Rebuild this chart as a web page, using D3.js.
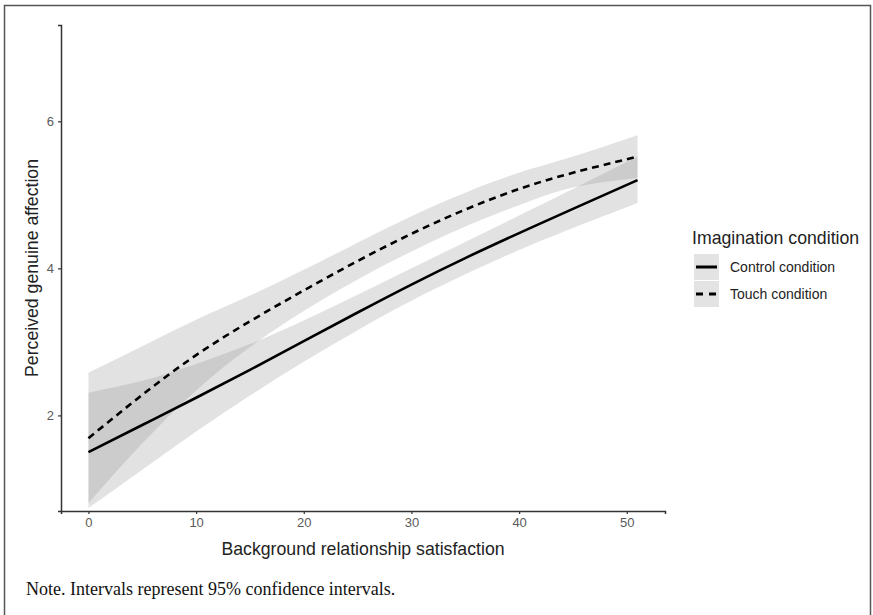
<!DOCTYPE html>
<html>
<head>
<meta charset="utf-8">
<script src="https://cdn.jsdelivr.net/npm/d3@7"></script>
<style>
  body { margin: 0; background: #fff; }
  svg { display: block; }
</style>
</head>
<body>
<div id="chart"></div>
<script>
/************************
 *  Data
 ************************/
const satisfaction = [0, 5, 10, 15, 20, 25, 30, 35, 40, 45, 51];

const controlFit   = [1.50, 1.87, 2.24, 2.62, 3.01, 3.40, 3.78, 4.14, 4.48, 4.81, 5.20];
const controlLower = [0.74, 1.26, 1.78, 2.27, 2.73, 3.16, 3.56, 3.92, 4.25, 4.55, 4.89];
const controlUpper = [2.31, 2.47, 2.70, 2.97, 3.29, 3.64, 4.00, 4.36, 4.72, 5.08, 5.52];

const touchFit   = [1.69, 2.28, 2.82, 3.28, 3.70, 4.10, 4.47, 4.80, 5.08, 5.30, 5.52];
const touchLower = [0.81, 1.62, 2.34, 2.93, 3.42, 3.85, 4.23, 4.57, 4.86, 5.10, 5.23];
const touchUpper = [2.58, 2.94, 3.30, 3.63, 3.98, 4.35, 4.71, 5.03, 5.30, 5.52, 5.81];

const xTicks = [0, 10, 20, 30, 40, 50];
const yTicks = [2, 4, 6];

const conditions = ["Control condition", "Touch condition"];

/************************
 *  Setup
 ************************/
const width = 873;
const height = 615;
const sans = "Liberation Sans, Arial, sans-serif";

const svg = d3.select("#chart")
  .append("svg")
  .attr("width", width)
  .attr("height", height);

// outer frame (left, top, right)
svg.append("path")
  .attr("d", "M4.5,615 L4.5,5.5 L870.5,5.5 L870.5,615")
  .style("fill", "none")
  .style("stroke", "#555")
  .style("stroke-width", 1.5);

const x = d3.scaleLinear().domain([-2.55, 53.55]).range([61, 665]);
const y = d3.scaleLinear().domain([0.70, 7.31]).range([511, 25]);

const series = [
  { name: conditions[0], fit: controlFit, lo: controlLower, hi: controlUpper, dash: null },
  { name: conditions[1], fit: touchFit, lo: touchLower, hi: touchUpper, dash: "7,5" }
];

/************************
 *  Ribbons & lines
 ************************/
const area = d3.area()
  .x((d, i) => x(satisfaction[i]))
  .y0(d => y(d[0]))
  .y1(d => y(d[1]))
  .curve(d3.curveNatural);

const line = d3.line()
  .x((d, i) => x(satisfaction[i]))
  .y(d => y(d))
  .curve(d3.curveNatural);

svg.selectAll(".ribbon")
  .data(series)
  .enter()
  .append("path")
  .attr("class", "ribbon")
  .attr("d", s => area(s.lo.map((v, i) => [v, s.hi[i]])))
  .style("fill", "#8c8c8c")
  .style("fill-opacity", 0.25);

svg.selectAll(".fit")
  .data(series)
  .enter()
  .append("path")
  .attr("class", "fit")
  .attr("d", s => line(s.fit))
  .style("fill", "none")
  .style("stroke", "#000")
  .style("stroke-width", 2.6)
  .style("stroke-dasharray", s => s.dash);

/************************
 *  Axes
 ************************/
const axisColor = "#333";

const xAxis = svg.append("g")
  .attr("transform", "translate(0,511)")
  .call(d3.axisBottom(x).tickValues(xTicks).tickSize(3).tickPadding(4).tickFormat(d3.format("d")));

const yAxis = svg.append("g")
  .attr("transform", "translate(61,0)")
  .call(d3.axisLeft(y).tickValues(yTicks).tickSize(3).tickPadding(4).tickFormat(d3.format("d")));

[xAxis, yAxis].forEach(g => {
  g.select(".domain").style("stroke", axisColor).style("stroke-width", 1.5);
  g.selectAll(".tick line").style("stroke", axisColor).style("stroke-width", 1.2);
  g.selectAll(".tick text")
    .style("fill", "#5a5a5a")
    .style("font-family", sans)
    .style("font-size", "13px");
});

svg.append("text")
  .attr("x", x(25.5))
  .attr("y", 555)
  .style("text-anchor", "middle")
  .style("font-family", sans)
  .style("font-size", "17.7px")
  .style("fill", "#222")
  .text("Background relationship satisfaction");

svg.append("text")
  .attr("transform", "translate(38,268) rotate(-90)")
  .style("text-anchor", "middle")
  .style("font-family", sans)
  .style("font-size", "17.7px")
  .style("fill", "#222")
  .text("Perceived genuine affection");

/************************
 *  Legend
 ************************/
const legend = svg.append("g").attr("transform", "translate(692,0)");

legend.append("text")
  .attr("x", 0)
  .attr("y", 244)
  .style("font-family", sans)
  .style("font-size", "17.7px")
  .style("fill", "#222")
  .text("Imagination condition");

const keys = legend.selectAll(".key")
  .data(series)
  .enter()
  .append("g")
  .attr("class", "key")
  .attr("transform", (d, i) => `translate(2,${254 + i * 27})`);

keys.append("rect")
  .attr("width", 25)
  .attr("height", 26)
  .style("fill", "#e3e3e3");

keys.append("line")
  .attr("x1", 2)
  .attr("x2", 23)
  .attr("y1", 13)
  .attr("y2", 13)
  .style("stroke", "#000")
  .style("stroke-width", 3)
  .style("stroke-dasharray", d => d.dash ? "7,6" : null);

keys.append("text")
  .attr("x", 36)
  .attr("y", 18)
  .style("font-family", sans)
  .style("font-size", "14px")
  .style("fill", "#222")
  .text(d => d.name);

/************************
 *  Note
 ************************/
svg.append("text")
  .attr("x", 26)
  .attr("y", 595)
  .style("font-family", "Liberation Serif, Times New Roman, serif")
  .style("font-size", "18px")
  .style("fill", "#111")
  .text("Note. Intervals represent 95% confidence intervals.");
</script>
</body>
</html>
